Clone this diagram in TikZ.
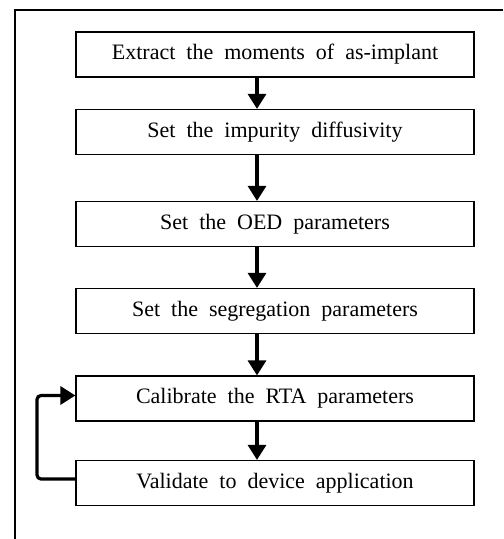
\documentclass[tikz,border=0pt]{standalone}
\usepackage{fontspec}
\setmainfont{Liberation Serif}
\usetikzlibrary{arrows.meta}
\begin{document}
\begin{tikzpicture}[x=0.5pt,y=-0.5pt,
        every node/.style={draw,line width=0.6pt,minimum width=199pt,minimum height=22.5pt,
            inner sep=0pt,font=\fontsize{11}{13}\selectfont},
        flow/.style={line width=1.6pt,-{Triangle[width=9pt,length=7.5pt]}},
        loopback/.style={flow,rounded corners=2pt}]
    \useasboundingbox (0,0) rectangle (503,539);
    % outer frame (only top and left edges show)
    \draw[line width=0.6pt] (15,539) -- (15,10) -- (503,10);
    \node (extract)   at (275,54.5) {Extract\ \ the\ \ moments\ \ of\ \ as-implant};
    \node (diffuse)   at (275,132)  {Set\ \ the\ \ impurity\ \ diffusivity};
    \node (oed)       at (275,224)  {Set\ \ the\ \ OED\ \ parameters};
    \node (segregate) at (275,311)  {Set\ \ the\ \ segregation\ \ parameters};
    \node (rta)       at (275,398.5){Calibrate\ \ the\ \ RTA\ \ parameters};
    \node (validate)  at (275,483)  {Validate\ \ to\ \ device\ \ application};
    \draw[flow] ([xshift=-9pt]extract.south) -- ([xshift=-9pt]diffuse.north);
    \draw[flow] ([xshift=-9pt]diffuse.south) -- ([xshift=-9pt]oed.north);
    \draw[flow] ([xshift=-9pt]oed.south) -- ([xshift=-9pt]segregate.north);
    \draw[flow] ([xshift=-9pt]segregate.south) -- ([xshift=-9pt]rta.north);
    \draw[flow] ([xshift=-9pt]rta.south) -- ([xshift=-9pt]validate.north);
    % feedback loop
    \coordinate (back) at (37,0);
    \coordinate (rtain) at ([yshift=1.5pt]rta.west);
    \coordinate (valout) at ([yshift=2pt]validate.west);
    \draw[loopback] (valout) -| (back |- rtain) -- (rtain);
\end{tikzpicture}
\end{document}
